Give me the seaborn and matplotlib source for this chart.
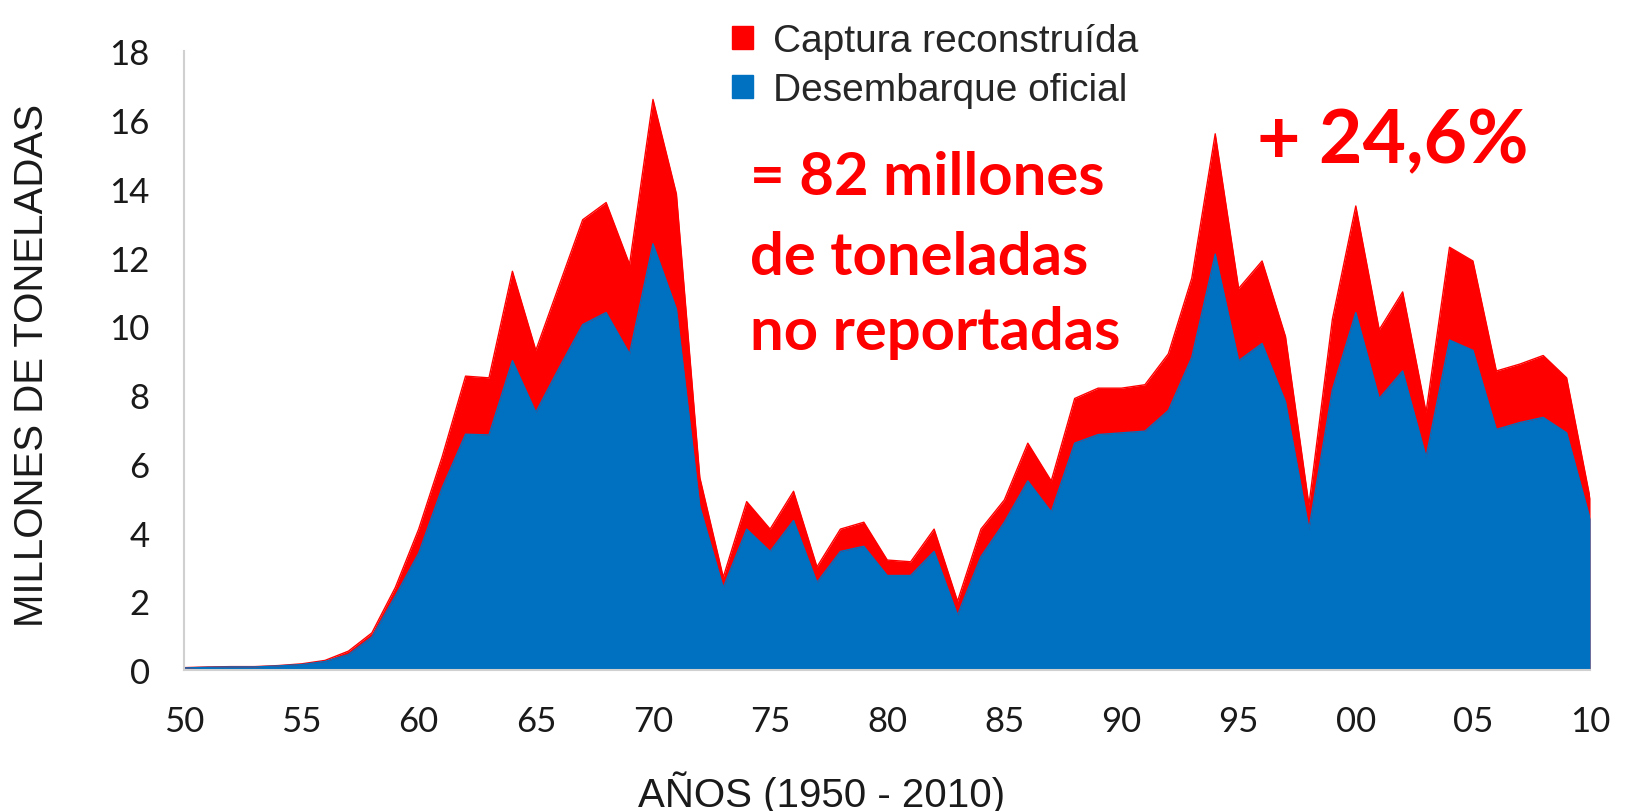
import numpy as np
import pandas as pd
import matplotlib
matplotlib.use("Agg")
import matplotlib.pyplot as plt
from matplotlib.patches import Patch
import seaborn as sns

# data (millions of tonnes)
years = list(range(1950, 2011))
official = [0.06, 0.08, 0.09, 0.09, 0.12, 0.16, 0.25, 0.45, 0.96, 2.15,
            3.4, 5.3, 6.86, 6.84, 9.0, 7.5, 8.8, 10.05, 10.4, 9.2,
            12.4, 10.5, 4.75, 2.4, 4.1, 3.45, 4.35, 2.55, 3.45, 3.6,
            2.75, 2.75, 3.45, 1.6, 3.3, 4.3, 5.5, 4.6, 6.6, 6.85,
            6.9, 6.95, 7.55, 9.1, 12.1, 9.0, 9.5, 7.8, 4.1, 8.15,
            10.4, 7.9, 8.7, 6.2, 9.6, 9.3, 7.0, 7.2, 7.35, 6.9,
            4.4]
reconstructed = [0.07, 0.09, 0.10, 0.10, 0.13, 0.18, 0.28, 0.55, 1.08, 2.4,
                 4.1, 6.2, 8.55, 8.5, 11.6, 9.3, 11.2, 13.1, 13.6, 11.8,
                 16.6, 13.85, 5.6, 2.7, 4.9, 4.1, 5.2, 3.0, 4.1, 4.3,
                 3.2, 3.15, 4.1, 2.0, 4.1, 4.95, 6.6, 5.5, 7.9, 8.2,
                 8.2, 8.3, 9.2, 11.4, 15.6, 11.1, 11.9, 9.7, 4.8, 10.2,
                 13.5, 9.9, 11.0, 7.5, 12.3, 11.9, 8.7, 8.9, 9.15, 8.5,
                 5.0]
xtick_pos = list(range(1950, 2011, 5))
xtick_labels = ["50", "55", "60", "65", "70", "75", "80", "85", "90", "95", "00", "05", "10"]
yticks = list(range(0, 19, 2))

RED = "#FF0000"
BLUE = "#0070C0"

df = pd.DataFrame({"year": years, "official": official, "total": reconstructed})

sns.set_style("white")
plt.rcParams["font.family"] = ["Liberation Sans", "DejaVu Sans"]

fig = plt.figure(figsize=(16.25, 8.12), dpi=100)
ax = fig.add_axes([0.1135, 0.1736, 0.865, 0.762])

# reconstructed catch drawn first, official landings on top
ax.fill_between(df["year"], df["total"], color=RED, linewidth=0)
ax.fill_between(df["year"], df["official"], color=BLUE, linewidth=0)
sns.lineplot(data=df, x="year", y="total", color=RED, linewidth=1, ax=ax)
sns.lineplot(data=df, x="year", y="official", color=BLUE, linewidth=1, ax=ax)

ax.set_xlim(1950, 2010)
ax.set_ylim(0, 18)
tick_font = dict(fontsize=25, family=["Lato", "DejaVu Sans"], color="#1a1a1a")
ax.set_xticks(xtick_pos)
ax.set_xticklabels(xtick_labels, **tick_font)
ax.set_yticks(yticks)
ax.set_yticklabels([str(v) for v in yticks], **tick_font)
ax.tick_params(axis="both", length=0)
ax.tick_params(axis="x", pad=25)
ax.tick_params(axis="y", pad=25)

ax.set_xlabel("AÑOS (1950 - 2010)", fontsize=29, color="#1a1a1a", va="baseline")
ax.xaxis.set_label_coords(0.453, -0.2197)
ax.set_ylabel("MILLONES DE TONELADAS", fontsize=29, color="#1a1a1a", va="center")
ax.yaxis.set_label_coords(-0.1084, 0.494)

for side in ["top", "right"]:
    ax.spines[side].set_visible(False)
ax.spines["left"].set_color("#D0D0D0")
ax.spines["left"].set_linewidth(1.5)
ax.spines["bottom"].set_color("#D0D0D0")
ax.spines["bottom"].set_linewidth(1.5)

handles = [Patch(color=RED, label="Captura reconstruída"),
           Patch(color=BLUE, label="Desembarque oficial")]
fig.legend(handles=handles, loc="upper left", bbox_to_anchor=(0.429, 1.013),
           frameon=False, fontsize=28, handlelength=0.54, handleheight=0.54,
           handletextpad=0.5, labelspacing=0.32)

bold = dict(color=RED, fontweight="bold", family=["Lato", "DejaVu Sans"])
ax.text(1974.15, 13.85, "= 82 millones", fontsize=43, va="baseline", **bold)
ax.text(1974.15, 11.52, "de toneladas", fontsize=43, va="baseline", **bold)
ax.text(1974.15, 9.34, "no reportadas", fontsize=43, va="baseline", **bold)
ax.text(1995.8, 14.78, "+ 24,6%", fontsize=54, va="baseline", **bold)

fig.savefig("out.png", dpi=100)
